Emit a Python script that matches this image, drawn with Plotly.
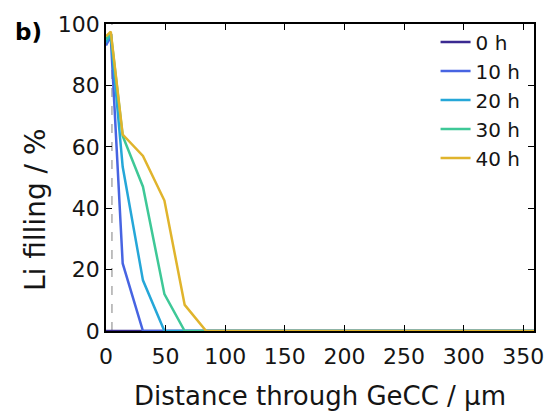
import plotly.graph_objects as go

# Distance through the germanium current collector (µm)
distance = [0, 4, 14, 31, 49, 66, 84, 102, 120, 137, 155, 173, 190, 208,
            226, 243, 261, 279, 296, 314, 332, 349, 359]

# Li filling (%) after each lithiation time
filling_0h = [0] * 23
filling_10h = [93, 96, 22, 0] + [0] * 19
filling_20h = [94, 96.5, 53.5, 16.5, 0] + [0] * 18
filling_30h = [95, 97, 63.5, 47, 12, 0] + [0] * 17
filling_40h = [96, 97.5, 64, 57, 42.5, 8.5, 0] + [0] * 16

series = [
    ("0 h", filling_0h, "#3b2a91"),
    ("10 h", filling_10h, "#4764e2"),
    ("20 h", filling_20h, "#25a7d8"),
    ("30 h", filling_30h, "#3ec897"),
    ("40 h", filling_40h, "#e0b42c"),
]

interface_x = 5  # position of the GeCC surface

FONT = "DejaVu Sans, Liberation Sans, sans-serif"
TEXT = "#151515"

fig = go.Figure()
for name, vals, color in series:
    fig.add_trace(go.Scatter(
        x=distance, y=vals, name=name, mode="lines",
        line=dict(color=color, width=2.5),
        cliponaxis=False,
    ))

fig.add_shape(type="line", xref="x", yref="y",
              x0=interface_x, x1=interface_x, y0=0, y1=100,
              line=dict(color="#808080", width=1, dash="dash"),
              layer="below")

axis_common = dict(
    showline=True, linecolor="black", linewidth=1.5, mirror="ticks",
    ticks="inside", ticklen=6, tickwidth=1.2, tickcolor="black",
    showgrid=False, zeroline=False,
    tickfont=dict(family=FONT, size=22, color=TEXT),
)

fig.update_xaxes(
    range=[0, 359], tickvals=[0, 50, 100, 150, 200, 250, 300, 350],
    ticklabelstandoff=5,
    **axis_common,
)
fig.update_yaxes(
    range=[0, 100], tickvals=[0, 20, 40, 60, 80, 100],
    **axis_common,
)

# Axis titles placed as annotations for precise positioning
fig.add_annotation(
    text="Distance through GeCC / µm", xref="paper", yref="paper",
    x=0.5, y=-0.213, xanchor="center", yanchor="middle",
    showarrow=False, font=dict(family=FONT, size=26, color=TEXT),
)
fig.add_annotation(
    text="Li filling / %", xref="paper", yref="paper",
    x=-0.165, y=0.395, xanchor="center", yanchor="middle", textangle=-90,
    showarrow=False, font=dict(family=FONT, size=28, color=TEXT),
)

fig.add_annotation(
    text="<b>b)</b>", xref="paper", yref="paper",
    x=-0.218, y=0.975, xanchor="left", yanchor="middle",
    showarrow=False, font=dict(family=FONT, size=23, color="black"),
)

fig.update_layout(
    width=556, height=412,
    margin=dict(l=106, r=19, t=19, b=81),
    plot_bgcolor="white", paper_bgcolor="white",
    legend=dict(
        x=0.77, y=1.005, xanchor="left", yanchor="top",
        bgcolor="rgba(0,0,0,0)", borderwidth=0,
        font=dict(family=FONT, size=20, color=TEXT),
        itemwidth=30, tracegroupgap=0,
    ),
    font=dict(family=FONT),
)

fig.write_html("out.html")
